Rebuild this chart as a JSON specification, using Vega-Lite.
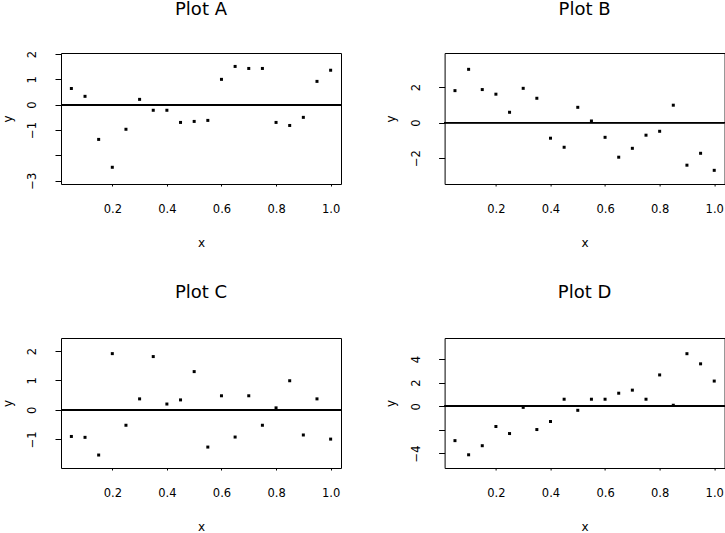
{
  "$schema": "https://vega.github.io/schema/vega-lite/v6.json",
  "background": "white",
  "padding": {"left": 0, "top": 0, "right": 0, "bottom": 0},
  "columns": 2,
  "spacing": {"row": 154, "column": 103.6},
  "bounds": "flush",
  "datasets": {
    "A": [
      {"x": 0.05, "y": 0.64}, {"x": 0.10, "y": 0.33}, {"x": 0.15, "y": -1.37}, {"x": 0.20, "y": -2.47},
      {"x": 0.25, "y": -0.97}, {"x": 0.30, "y": 0.21}, {"x": 0.35, "y": -0.22}, {"x": 0.40, "y": -0.22},
      {"x": 0.45, "y": -0.70}, {"x": 0.50, "y": -0.66}, {"x": 0.55, "y": -0.62}, {"x": 0.60, "y": 1.00},
      {"x": 0.65, "y": 1.51}, {"x": 0.70, "y": 1.43}, {"x": 0.75, "y": 1.43}, {"x": 0.80, "y": -0.70},
      {"x": 0.85, "y": -0.82}, {"x": 0.90, "y": -0.50}, {"x": 0.95, "y": 0.92}, {"x": 1.00, "y": 1.36}
    ],
    "B": [
      {"x": 0.05, "y": 1.80}, {"x": 0.10, "y": 3.00}, {"x": 0.15, "y": 1.86}, {"x": 0.20, "y": 1.60},
      {"x": 0.25, "y": 0.58}, {"x": 0.30, "y": 1.93}, {"x": 0.35, "y": 1.37}, {"x": 0.40, "y": -0.88},
      {"x": 0.45, "y": -1.39}, {"x": 0.50, "y": 0.86}, {"x": 0.55, "y": 0.09}, {"x": 0.60, "y": -0.83},
      {"x": 0.65, "y": -1.95}, {"x": 0.70, "y": -1.45}, {"x": 0.75, "y": -0.71}, {"x": 0.80, "y": -0.49},
      {"x": 0.85, "y": 0.98}, {"x": 0.90, "y": -2.40}, {"x": 0.95, "y": -1.73}, {"x": 1.00, "y": -2.69}
    ],
    "C": [
      {"x": 0.05, "y": -0.90}, {"x": 0.10, "y": -0.93}, {"x": 0.15, "y": -1.53}, {"x": 0.20, "y": 1.91},
      {"x": 0.25, "y": -0.52}, {"x": 0.30, "y": 0.375}, {"x": 0.35, "y": 1.81}, {"x": 0.40, "y": 0.20},
      {"x": 0.45, "y": 0.34}, {"x": 0.50, "y": 1.30}, {"x": 0.55, "y": -1.26}, {"x": 0.60, "y": 0.48},
      {"x": 0.65, "y": -0.92}, {"x": 0.70, "y": 0.48}, {"x": 0.75, "y": -0.52}, {"x": 0.80, "y": 0.07},
      {"x": 0.85, "y": 0.99}, {"x": 0.90, "y": -0.85}, {"x": 0.95, "y": 0.375}, {"x": 1.00, "y": -0.99}
    ],
    "D": [
      {"x": 0.05, "y": -2.91}, {"x": 0.10, "y": -4.11}, {"x": 0.15, "y": -3.34}, {"x": 0.20, "y": -1.71},
      {"x": 0.25, "y": -2.31}, {"x": 0.30, "y": -0.09}, {"x": 0.35, "y": -1.97}, {"x": 0.40, "y": -1.29},
      {"x": 0.45, "y": 0.60}, {"x": 0.50, "y": -0.34}, {"x": 0.55, "y": 0.60}, {"x": 0.60, "y": 0.60},
      {"x": 0.65, "y": 1.11}, {"x": 0.70, "y": 1.37}, {"x": 0.75, "y": 0.60}, {"x": 0.80, "y": 2.66},
      {"x": 0.85, "y": 0.09}, {"x": 0.90, "y": 4.46}, {"x": 0.95, "y": 3.60}, {"x": 1.00, "y": 2.14}
    ]
  },
  "concat": [
    {
      "title": {"text": "Plot A", "offset": 31.8},
      "width": 280,
      "height": 131,
      "data": {"name": "A"},
      "layer": [
        {
          "mark": {"type": "point", "shape": "square", "filled": true, "size": 9, "color": "black", "opacity": 1},
          "encoding": {
            "x": {"field": "x", "type": "quantitative", "title": "x", "scale": {"domain": [0.012, 1.038], "nice": false, "zero": false},
                  "axis": {"labelOverlap": false}},
            "y": {"field": "y", "type": "quantitative", "title": "y", "scale": {"domain": [-3.13, 2.04], "nice": false, "zero": false},
                  "axis": {"values": [-3, -2, -1, 0, 1, 2], "labelOverlap": false,
                           "labelOpacity": {"condition": {"test": "datum.value == -2", "value": 0}, "value": 1}}}
          }
        },
        {
          "mark": {"type": "rule", "color": "black", "strokeWidth": 1},
          "encoding": {
            "y": {"datum": 0, "type": "quantitative", "title": "y",
                  "axis": {"values": [-3, -2, -1, 0, 1, 2], "labelOverlap": false,
                           "labelOpacity": {"condition": {"test": "datum.value == -2", "value": 0}, "value": 1}}}
          }
        }
      ]
    },
    {
      "title": {"text": "Plot B", "offset": 34.5},
      "width": 280,
      "height": 131,
      "data": {"name": "B"},
      "layer": [
        {
          "mark": {"type": "point", "shape": "square", "filled": true, "size": 9, "color": "black", "opacity": 1},
          "encoding": {
            "x": {"field": "x", "type": "quantitative", "title": "x", "scale": {"domain": [0.012, 1.038], "nice": false, "zero": false},
                  "axis": {"labelOverlap": false}},
            "y": {"field": "y", "type": "quantitative", "title": "y", "scale": {"domain": [-3.46, 3.92], "nice": false, "zero": false},
                  "axis": {"values": [-2, 0, 2], "labelOverlap": false}}
          }
        },
        {
          "mark": {"type": "rule", "color": "black", "strokeWidth": 1},
          "encoding": {
            "y": {"datum": 0, "type": "quantitative", "title": "y", "axis": {"values": [-2, 0, 2], "labelOverlap": false}}
          }
        }
      ]
    },
    {
      "title": {"text": "Plot C", "offset": 36},
      "width": 280,
      "height": 130,
      "data": {"name": "C"},
      "layer": [
        {
          "mark": {"type": "point", "shape": "square", "filled": true, "size": 9, "color": "black", "opacity": 1},
          "encoding": {
            "x": {"field": "x", "type": "quantitative", "title": "x", "scale": {"domain": [0.012, 1.038], "nice": false, "zero": false},
                  "axis": {"labelOverlap": false}},
            "y": {"field": "y", "type": "quantitative", "title": "y", "scale": {"domain": [-1.97, 2.44], "nice": false, "zero": false},
                  "axis": {"values": [-1, 0, 1, 2], "labelOverlap": false}}
          }
        },
        {
          "mark": {"type": "rule", "color": "black", "strokeWidth": 1},
          "encoding": {
            "y": {"datum": 0, "type": "quantitative", "title": "y", "axis": {"values": [-1, 0, 1, 2], "labelOverlap": false}}
          }
        }
      ]
    },
    {
      "title": {"text": "Plot D", "offset": 36},
      "width": 280,
      "height": 130,
      "data": {"name": "D"},
      "layer": [
        {
          "mark": {"type": "point", "shape": "square", "filled": true, "size": 9, "color": "black", "opacity": 1},
          "encoding": {
            "x": {"field": "x", "type": "quantitative", "title": "x", "scale": {"domain": [0.012, 1.038], "nice": false, "zero": false},
                  "axis": {"labelOverlap": false}},
            "y": {"field": "y", "type": "quantitative", "title": "y", "scale": {"domain": [-5.23, 5.79], "nice": false, "zero": false},
                  "axis": {"values": [-4, -2, 0, 2, 4], "labelOverlap": false,
                           "labelOpacity": {"condition": {"test": "datum.value == -2", "value": 0}, "value": 1}}}
          }
        },
        {
          "mark": {"type": "rule", "color": "black", "strokeWidth": 1},
          "encoding": {
            "y": {"datum": 0, "type": "quantitative", "title": "y",
                  "axis": {"values": [-4, -2, 0, 2, 4], "labelOverlap": false,
                           "labelOpacity": {"condition": {"test": "datum.value == -2", "value": 0}, "value": 1}}}
          }
        }
      ]
    }
  ],
  "config": {
    "font": "DejaVu Sans",
    "view": {"stroke": "black", "strokeWidth": 1},
    "title": {
      "font": "DejaVu Sans",
      "fontSize": 18,
      "fontWeight": "normal",
      "color": "black",
      "anchor": "middle",
      "frame": "group",
      "baseline": "alphabetic"
    },
    "axis": {
      "domain": false,
      "grid": false,
      "tickColor": "black",
      "labelColor": "black",
      "titleColor": "black",
      "labelFont": "DejaVu Sans",
      "titleFont": "DejaVu Sans",
      "labelFontSize": 11.5,
      "titleFontSize": 12,
      "titleFontWeight": "normal",
      "labelOverlap": false,
      "labelFlush": false
    },
    "axisX": {
      "values": [0.2, 0.4, 0.6, 0.8, 1.0],
      "format": ".1f",
      "tickSize": 2,
      "labelBaseline": "alphabetic",
      "labelPadding": 26,
      "titleBaseline": "alphabetic",
      "titleY": 62
    },
    "axisY": {
      "tickSize": 6,
      "labelAngle": 270,
      "labelAlign": "center",
      "labelBaseline": "alphabetic",
      "labelPadding": 19.5,
      "labelOverlap": false,
      "titleAngle": 270,
      "titleBaseline": "alphabetic",
      "titleX": -50
    }
  }
}
